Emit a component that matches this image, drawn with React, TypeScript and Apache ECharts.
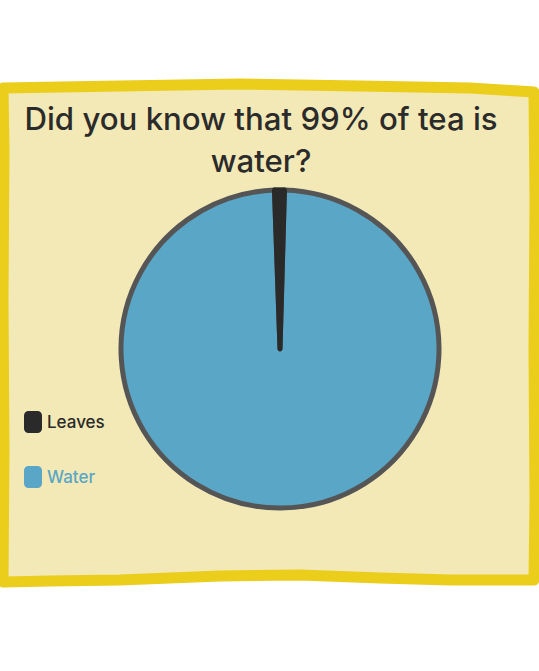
import React, { useEffect, useRef } from "react";
import * as echarts from "echarts";

const titleText = "Did you know that 99% of tea is\nwater?";
const categories = ["Leaves", "Water"];
const values = [1, 99];
const colors = ["#2a2a2a", "#5aa6c6"];

export default function App() {
  const ref = useRef<HTMLDivElement>(null);
  useEffect(() => {
    if (!ref.current) return;
    const chart = echarts.init(ref.current, null, { renderer: "svg" });
    const pieCommon = {
      type: "pie",
      center: [280, 349],
      radius: [0, 159],
      startAngle: 92,
      clockwise: true,
      label: { show: false },
      labelLine: { show: false },
    };
    chart.setOption({
      animation: false,
      backgroundColor: "#ffffff",
      graphic: [
        {
          type: "polygon",
          z: -10,
          shape: {
            points: [
              [3, 88], [120, 86], [240, 84], [360, 86], [470, 88], [534, 92],
              [535, 200], [534, 350], [535, 500], [534, 580],
              [450, 580], [380, 578], [300, 575], [220, 576], [120, 580], [50, 581], [3, 582],
              [4, 450], [3, 300], [4, 150],
            ],
          },
          style: { fill: "#f3e9b6", stroke: "#ebcd1c", lineWidth: 11, lineJoin: "round" },
        },
      ],
      title: {
        text: titleText,
        left: 256,
        textAlign: "center",
        top: 93,
        textStyle: {
          fontFamily: "Inter, 'Open Sans', sans-serif",
          fontSize: 31.2,
          fontWeight: 500,
          color: "#2b2b2b",
          lineHeight: 42,
        },
      },
      legend: {
        orient: "vertical",
        left: 19,
        top: 406,
        itemGap: 33,
        itemWidth: 18,
        itemHeight: 22,
        icon: "roundRect",
        textStyle: {
          fontFamily: "Inter, 'Open Sans', sans-serif",
          fontSize: 17,
          fontWeight: 500,
        },
        data: categories.map((c, i) => ({
          name: c,
          textStyle: { color: colors[i] },
          itemStyle: { borderWidth: 0 },
        })),
      },
      series: [
        {
          ...pieCommon,
          itemStyle: { borderColor: "#555555", borderWidth: 5 },
          data: categories.map((c, i) => ({
            name: c,
            value: values[i],
            itemStyle: { color: colors[i] },
          })),
        },
        {
          ...pieCommon,
          silent: true,
          z: 3,
          data: categories.map((c, i) => ({
            name: c,
            value: values[i],
            itemStyle:
              i === 0
                ? { color: colors[i], borderColor: colors[i], borderWidth: 5 }
                : { color: "transparent", borderWidth: 0 },
          })),
        },
      ],
    });
    return () => chart.dispose();
  }, []);
  return (
    <div
      ref={ref}
      style={{ position: "absolute", left: 0, top: 0, width: 539, height: 671 }}
    />
  );
}
